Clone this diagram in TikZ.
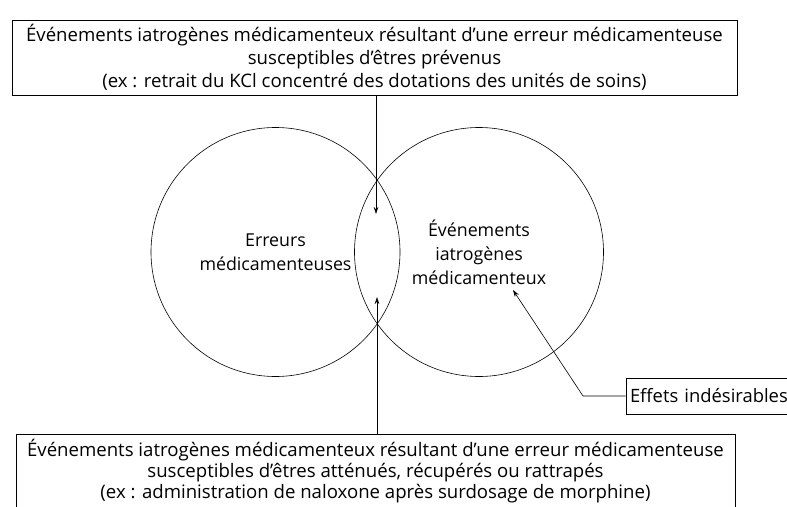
\documentclass[tikz,border=0pt]{standalone}
\usepackage{fontspec}
\setmainfont{Open Sans}
\usetikzlibrary{arrows.meta}
\tikzset{
  cadre/.style={draw=black,line width=0.7pt,rectangle,align=center,inner sep=0pt},
  ensemble/.style={draw=black,line width=0.6pt,circle,minimum size=249pt,inner sep=0pt,
    align=center,font=\fontsize{17.8}{24}\selectfont},
  fleche/.style={-{Stealth[length=7pt,width=4.5pt]},line width=0.6pt}
}
\begin{document}
\begin{tikzpicture}[x=1pt,y=-1pt]
  \path[use as bounding box,clip] (0,0) rectangle (787,506);

  % Encadrés du haut et du bas
  \node[cadre,minimum width=725pt,minimum height=75pt,font=\fontsize{18.6}{23}\selectfont]
    (prevenus) at (374.5,57.5)
    {Événements iatrogènes médicamenteux résultant d’une erreur médicamenteuse\\
     susceptibles d’êtres prévenus\\
     (ex : retrait du KCl concentré des dotations des unités de soins)};
  \node[cadre,minimum width=719pt,minimum height=74pt,font=\fontsize{18.6}{21}\selectfont]
    (attenues) at (375.5,471)
    {Événements iatrogènes médicamenteux résultant d’une erreur médicamenteuse\\
     susceptibles d’êtres atténués, récupérés ou rattrapés\\
     (ex : administration de naloxone après surdosage de morphine)};

  % Les deux ensembles
  \node[ensemble] (erreurs) at (275.5,252) {Erreurs\\médicamenteuses};
  \node[ensemble] (eim) at (479,252) {Événements\\iatrogènes\\médicamenteux};

  % Effets indésirables
  \node[cadre,minimum width=180pt,minimum height=36pt,text width=172pt,align=left,
    font=\fontsize{18.4}{22}\selectfont]
    (effets) at (716,396) {Effets indésirables};

  % Pointes des flèches
  \coordinate (haut) at (376,214);
  \coordinate (bas) at (377,297);
  \coordinate (coude) at (583,396);
  \coordinate (cible) at (513,290);

  % Flèches
  \draw[fleche] (prevenus.south -| haut) -- (haut);
  \draw[fleche] (attenues.north -| bas) -- (bas);
  \draw[fleche] (effets.west) -- (coude) -- (cible);
\end{tikzpicture}
\end{document}
